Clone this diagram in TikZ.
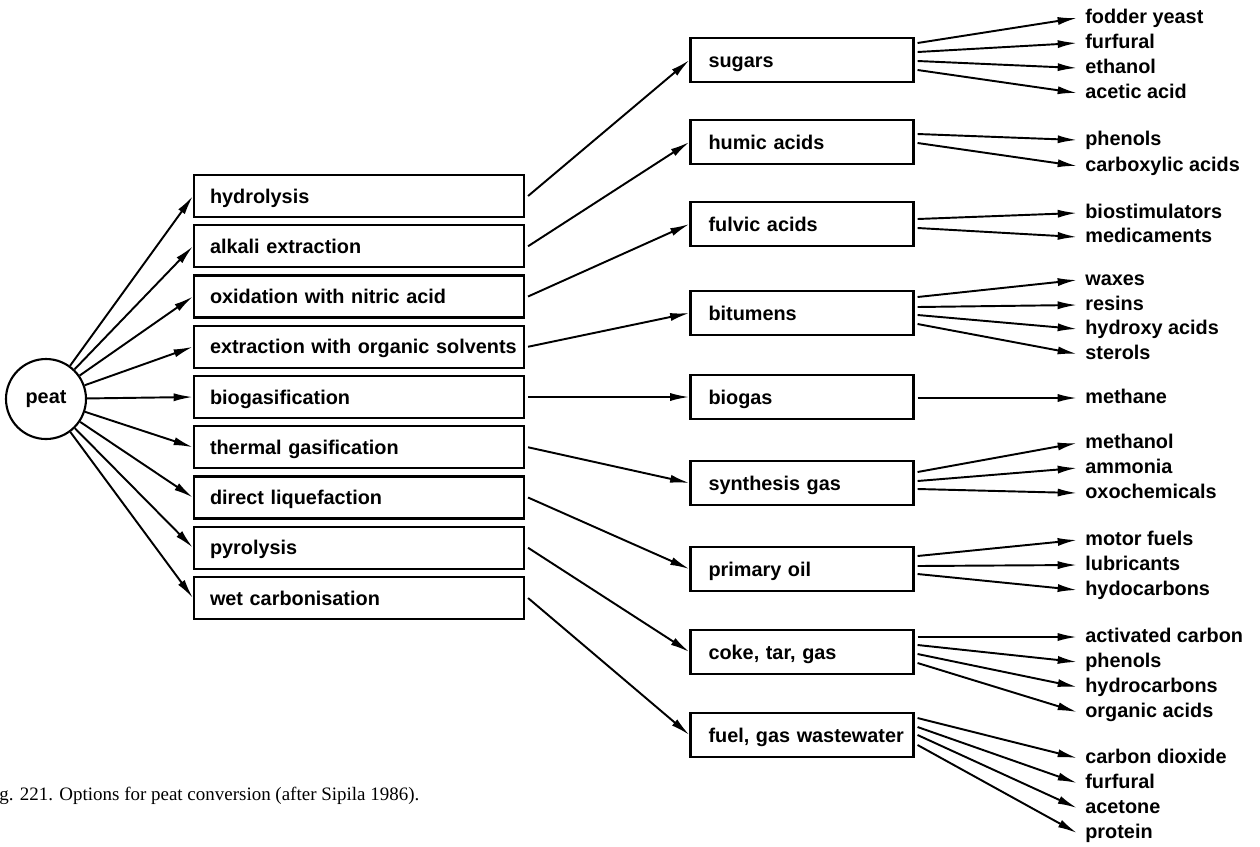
\documentclass[tikz,border=0pt]{standalone}
\usepackage{fontspec}
\setmainfont{Liberation Sans}
\newfontfamily\capfont{Liberation Serif}
\usetikzlibrary{arrows.meta,calc}
\newlength{\pxx}\setlength{\pxx}{0.02cm}
\begin{document}
\begin{tikzpicture}[x=0.02cm,y=-0.02cm,
  lbl/.style={font=\bfseries\fontsize{11.3}{13}\selectfont},
  arr/.style={line width=1.1pt,-{Latex[length=11pt,width=4.6pt]}},
  midbox/.style={lbl,draw,line width=1.2pt,minimum height=42\pxx,text width=298\pxx,inner xsep=16\pxx,inner ysep=0pt,align=left,text height=9pt,text depth=1pt},
  resbox/.style={lbl,draw,line width=1.2pt,minimum height=44\pxx,text width=187\pxx,inner xsep=18\pxx,inner ysep=0pt,align=left,text height=9pt,text depth=1pt},
  outlbl/.style={lbl,anchor=west,inner xsep=8\pxx,inner ysep=0pt,text height=8pt,text depth=2pt}]
\useasboundingbox (0,0) rectangle (1260,846);
% source
\node[lbl,circle,draw,line width=1.2pt,minimum size=80\pxx,inner sep=0pt] (peat) at (46,399) {peat};
% processes
\node[midbox] (m1) at (359,196) {\mbox{hydrolysis}};
\node[midbox] (m2) at (359,246.25) {\mbox{alkali extraction}};
\node[midbox] (m3) at (359,296.5) {\mbox{oxidation with nitric acid}};
\node[midbox] (m4) at (359,346.75) {\mbox{extraction with organic solvents}};
\node[midbox] (m5) at (359,397) {\mbox{biogasification}};
\node[midbox] (m6) at (359,447.25) {\mbox{thermal gasification}};
\node[midbox] (m7) at (359,497.5) {\mbox{direct liquefaction}};
\node[midbox] (m8) at (359,547.75) {\mbox{pyrolysis}};
\node[midbox] (m9) at (359,598) {\mbox{wet carbonisation}};
% intermediates
\node[resbox] (r1) at (802,60) {\mbox{sugars}};
\node[resbox] (r2) at (802,142) {\mbox{humic acids}};
\node[resbox] (r3) at (802,224) {\mbox{fulvic acids}};
\node[resbox] (r4) at (802,313) {\mbox{bitumens}};
\node[resbox] (r5) at (802,397) {\mbox{biogas}};
\node[resbox] (r6) at (802,483) {\mbox{synthesis gas}};
\node[resbox] (r7) at (802,569) {\mbox{primary oil}};
\node[resbox] (r8) at (802,652) {\mbox{coke, tar, gas}};
\node[resbox] (r9) at (802,735) {\mbox{fuel, gas wastewater}};
% products
\node[outlbl] (p1a) at (1077,18) {fodder yeast};
\node[outlbl] (p1b) at (1077,43) {furfural};
\node[outlbl] (p1c) at (1077,68) {ethanol};
\node[outlbl] (p1d) at (1077,93) {acetic acid};
\node[outlbl] (p2a) at (1077,140) {phenols};
\node[outlbl] (p2b) at (1077,166) {carboxylic acids};
\node[outlbl] (p3a) at (1077,213) {biostimulators};
\node[outlbl] (p3b) at (1077,237) {medicaments};
\node[outlbl] (p4a) at (1077,280) {waxes};
\node[outlbl] (p4b) at (1077,305) {resins};
\node[outlbl] (p4c) at (1077,329) {hydroxy acids};
\node[outlbl] (p4d) at (1077,354) {sterols};
\node[outlbl] (p5a) at (1077,398) {methane};
\node[outlbl] (p6a) at (1077,443) {methanol};
\node[outlbl] (p6b) at (1077,468) {ammonia};
\node[outlbl] (p6c) at (1077,493) {oxochemicals};
\node[outlbl] (p7a) at (1077,540) {motor fuels};
\node[outlbl] (p7b) at (1077,565) {lubricants};
\node[outlbl] (p7c) at (1077,590) {hydocarbons};
\node[outlbl] (p8a) at (1077,637) {activated carbon};
\node[outlbl] (p8b) at (1077,662) {phenols};
\node[outlbl] (p8c) at (1077,687) {hydrocarbons};
\node[outlbl] (p8d) at (1077,712) {organic acids};
\node[outlbl] (p9a) at (1077,758) {carbon dioxide};
\node[outlbl] (p9b) at (1077,783) {furfural};
\node[outlbl] (p9c) at (1077,808) {acetone};
\node[outlbl] (p9d) at (1077,833) {protein};
% caption
\node[anchor=west,inner sep=0pt,font=\capfont\fontsize{10.8}{13}\selectfont] (cap) at (-1,796) {g. 221. Options for peat conversion (after Sipila 1986).};
% peat -> processes
\foreach \m in {m1,m2,m3,m4,m5,m6,m7,m8,m9}
  \draw[arr] (peat) -- (\m.west);
% processes -> intermediates
\foreach \i in {1,...,9}
  \draw[arr] ($(m\i.east)+(3,0)$) -- (r\i.west);
% intermediates -> products
\draw[arr] ($(r1.east)+(3,-17)$) -- (p1a.west);
\draw[arr] ($(r1.east)+(3,-8)$) -- (p1b.west);
\draw[arr] ($(r1.east)+(3,1)$) -- (p1c.west);
\draw[arr] ($(r1.east)+(3,10)$) -- (p1d.west);
\draw[arr] ($(r2.east)+(3,-8)$) -- (p2a.west);
\draw[arr] ($(r2.east)+(3,1)$) -- (p2b.west);
\draw[arr] ($(r3.east)+(3,-5)$) -- (p3a.west);
\draw[arr] ($(r3.east)+(3,4)$) -- (p3b.west);
\draw[arr] ($(r4.east)+(3,-16)$) -- (p4a.west);
\draw[arr] ($(r4.east)+(3,-6)$) -- (p4b.west);
\draw[arr] ($(r4.east)+(3,2)$) -- (p4c.west);
\draw[arr] ($(r4.east)+(3,11)$) -- (p4d.west);
\draw[arr] ($(r5.east)+(3,1)$) -- (p5a.west);
\draw[arr] ($(r6.east)+(3,-11)$) -- (p6a.west);
\draw[arr] ($(r6.east)+(3,-2)$) -- (p6b.west);
\draw[arr] ($(r6.east)+(3,6)$) -- (p6c.west);
\draw[arr] ($(r7.east)+(3,-13)$) -- (p7a.west);
\draw[arr] ($(r7.east)+(3,-3)$) -- (p7b.west);
\draw[arr] ($(r7.east)+(3,5)$) -- (p7c.west);
\draw[arr] ($(r8.east)+(3,-15)$) -- (p8a.west);
\draw[arr] ($(r8.east)+(3,-7)$) -- (p8b.west);
\draw[arr] ($(r8.east)+(3,2)$) -- (p8c.west);
\draw[arr] ($(r8.east)+(3,11)$) -- (p8d.west);
\draw[arr] ($(r9.east)+(3,-17)$) -- (p9a.west);
\draw[arr] ($(r9.east)+(3,-8)$) -- (p9b.west);
\draw[arr] ($(r9.east)+(3,0)$) -- (p9c.west);
\draw[arr] ($(r9.east)+(3,10)$) -- (p9d.west);
\end{tikzpicture}
\end{document}
